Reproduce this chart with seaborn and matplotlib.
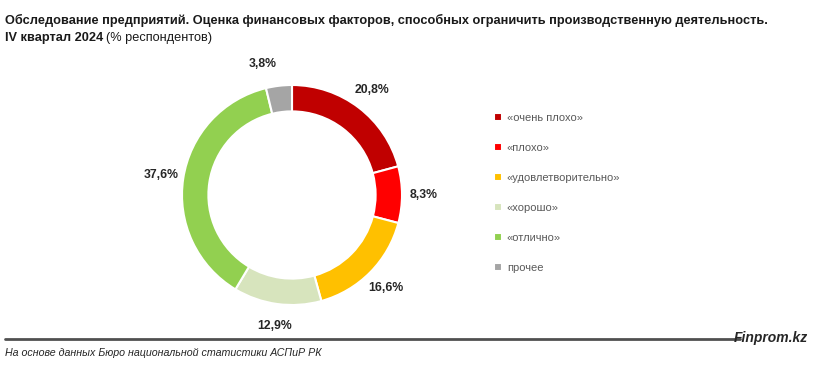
import numpy as np
import seaborn as sns
import matplotlib.pyplot as plt

# данные опроса
categories = ['«очень плохо»', '«плохо»', '«удовлетворительно»', '«хорошо»', '«отлично»', 'прочее']
values = [20.8, 8.3, 16.6, 12.9, 37.6, 3.8]
value_labels = ['20,8%', '8,3%', '16,6%', '12,9%', '37,6%', '3,8%']
colors = ['#C00000', '#FF0000', '#FFC000', '#D7E4BD', '#92D050', '#A5A5A5']

sns.set_theme(style='white')
plt.rcParams['font.family'] = ['Liberation Sans', 'DejaVu Sans']

fig = plt.figure(figsize=(8.15, 3.69), dpi=100)

# кольцевая диаграмма
ax = fig.add_axes([(292 - 150) / 815, (174 - 150) / 369, 300 / 815, 300 / 369])
wedges, texts = ax.pie(values, colors=colors, labels=value_labels, startangle=90,
                       counterclock=False, labeldistance=1.2,
                       wedgeprops=dict(width=0.24, edgecolor='white', linewidth=1.5),
                       textprops=dict(fontsize=8.8, fontweight='bold', color='#262626'))
for t in texts:
    t.set_ha('center')
    t.set_va('center')
texts[-1].set_ha('right')  # маленький сектор: подпись сдвинута влево
ax.set_xlim(-150 / 110, 150 / 110)
ax.set_ylim(-150 / 110, 150 / 110)
ax.set_aspect('equal')
ax.axis('off')

# легенда
ax.legend(wedges, categories, loc='upper left', bbox_to_anchor=(484 / 815, 1 - 103 / 369),
          bbox_transform=fig.transFigure, frameon=False, fontsize=8, labelspacing=1.8,
          handlelength=0.7, handleheight=0.7, handletextpad=0.45, labelcolor='#595959')

# заголовок
fig.text(0.006, 1 - 20 / 369, 'Обследование предприятий. Оценка финансовых факторов, способных ограничить производственную деятельность.',
         fontsize=9.2, fontweight='bold', va='center', color='#1a1a1a')
fig.text(0.006, 1 - 38 / 369, 'IV квартал 2024', fontsize=9.2, fontweight='bold', va='center', color='#1a1a1a')
fig.text(0.006 + 101 / 815, 1 - 38 / 369, '(% респондентов)', fontsize=9.2, va='center', color='#1a1a1a')

# нижняя линия и источник
fig.add_artist(plt.Line2D([5 / 815, 740 / 815], [1 - 339 / 369, 1 - 339 / 369], color='#505050', linewidth=2))
fig.text(0.992, 1 - 338 / 369, 'Finprom.kz', fontsize=10, fontweight='bold', fontstyle='italic',
         ha='right', va='center', color='#262626')
fig.text(0.006, 1 - 353 / 369, 'На основе данных Бюро национальной статистики АСПиР РК', fontsize=7.7,
         fontstyle='italic', va='center', color='#262626')

fig.savefig('out.png', dpi=100)
